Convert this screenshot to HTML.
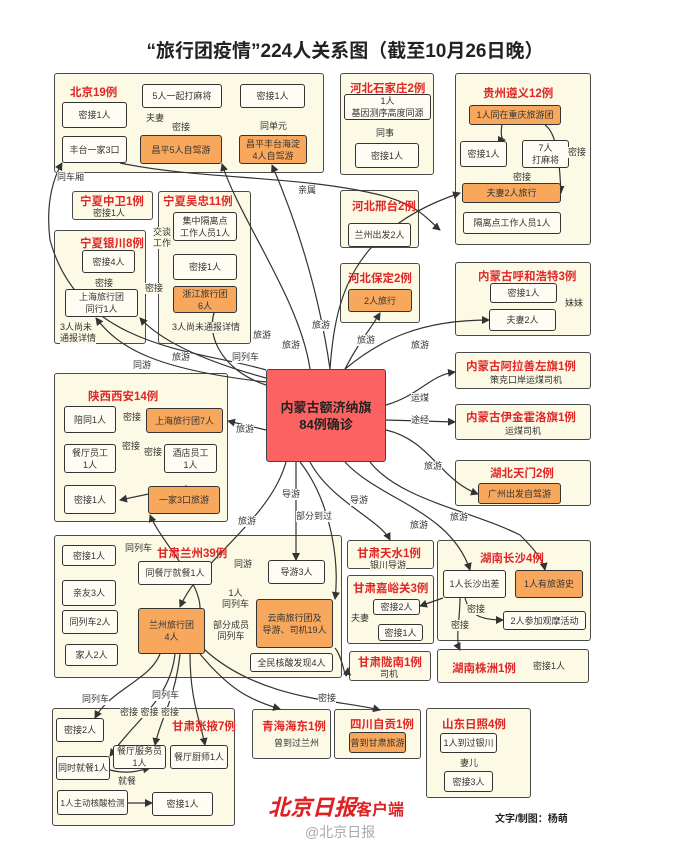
<!DOCTYPE html>
<html><head><meta charset="utf-8">
<style>
body{margin:0;background:#fff;}
#c{position:relative;width:690px;height:846px;overflow:hidden;background:#fff;font-family:"Liberation Sans","Noto Sans CJK SC",sans-serif;}
.g{position:absolute;background:#fcf9e4;border:1.5px solid #4a4a4a;border-radius:3px;box-sizing:border-box;z-index:0;}
.n{position:absolute;background:#fffdf3;border:1.3px solid #333;border-radius:3px;box-sizing:border-box;display:flex;align-items:center;justify-content:center;text-align:center;font-size:9px;line-height:12px;color:#333;z-index:2;white-space:nowrap;}
.o{background:#f8a85c;}
.t{position:absolute;color:#e02626;font-weight:bold;font-size:11.5px;white-space:nowrap;z-index:2;}
.s{position:absolute;font-size:9px;color:#333;white-space:nowrap;z-index:3;background:#fcf9e4;line-height:11px;}
.w{background:#fff;}
svg{position:absolute;left:0;top:0;z-index:1;}
</style></head><body><div id="c">
<div style="position:absolute;left:0;width:690px;top:36px;text-align:center;font-size:19px;font-weight:bold;color:#222;">“旅行团疫情”224人关系图（截至10月26日晚）</div>

<div class="g" style="left:54px;top:73px;width:270px;height:100px"></div>
<div class="g" style="left:340px;top:73px;width:94px;height:102px"></div>
<div class="g" style="left:455px;top:73px;width:136px;height:172px"></div>
<div class="g" style="left:340px;top:190px;width:79px;height:58px"></div>
<div class="g" style="left:340px;top:263px;width:80px;height:60px"></div>
<div class="g" style="left:455px;top:262px;width:136px;height:74px"></div>
<div class="g" style="left:72px;top:191px;width:81px;height:29px"></div>
<div class="g" style="left:158px;top:191px;width:93px;height:153px"></div>
<div class="g" style="left:54px;top:230px;width:92px;height:114px"></div>
<div class="g" style="left:455px;top:352px;width:136px;height:37px"></div>
<div class="g" style="left:455px;top:404px;width:136px;height:36px"></div>
<div class="g" style="left:455px;top:460px;width:136px;height:46px"></div>
<div class="g" style="left:54px;top:373px;width:174px;height:149px"></div>
<div class="g" style="left:54px;top:535px;width:288px;height:143px"></div>
<div class="g" style="left:347px;top:540px;width:87px;height:29px"></div>
<div class="g" style="left:437px;top:540px;width:154px;height:101px"></div>
<div class="g" style="left:347px;top:575px;width:87px;height:69px"></div>
<div class="g" style="left:349px;top:651px;width:82px;height:30px"></div>
<div class="g" style="left:437px;top:649px;width:152px;height:34px"></div>
<div class="g" style="left:52px;top:708px;width:183px;height:118px"></div>
<div class="g" style="left:252px;top:709px;width:79px;height:50px"></div>
<div class="g" style="left:334px;top:709px;width:87px;height:50px"></div>
<div class="g" style="left:426px;top:708px;width:105px;height:90px"></div>

<svg width="690" height="846" viewBox="0 0 690 846">
<defs><marker id="a" markerWidth="8" markerHeight="8" refX="7" refY="4" orient="auto" markerUnits="userSpaceOnUse"><path d="M0,0 L8,4 L0,8 Z" fill="#333"/></marker></defs>
<g fill="none" stroke="#333" stroke-width="1.2" marker-end="url(#a)">
<path d="M120,163 C200,180 300,175 380,195 C420,205 430,222 440,230"/>
<path d="M266,385 C220,370 200,330 220,300"/>
<path d="M310,369 C300,300 240,220 222,164"/>
<path d="M330,369 C320,300 300,230 272,165"/>
<path d="M266,430 L228,421"/>
<path d="M330,369 C335,300 350,230 460,193"/>
<path d="M345,369 C360,340 370,330 380,313"/>
<path d="M345,369 C380,340 420,320 489,320"/>
<path d="M266,378 C200,360 160,340 140,318"/>
<path d="M266,382 C160,370 120,350 96,318"/>
<path d="M266,370 C200,350 80,350 50,240 C45,200 55,175 62,163"/>
<path d="M386,405 C420,395 430,375 455,372"/>
<path d="M386,420 L455,422"/>
<path d="M386,430 C430,440 440,480 478,494"/>
<path d="M370,462 C400,500 470,510 520,535 C535,550 543,560 545,570"/>
<path d="M345,462 C380,500 450,510 470,570"/>
<path d="M310,462 C330,500 380,520 390,540"/>
<path d="M286,462 C270,520 200,560 180,607"/>
<path d="M296,462 L296,560"/>
<path d="M300,462 C330,500 340,560 335,599"/>
<path d="M200,608 C200,580 160,540 150,515"/>
<path d="M187,486 L120,500"/>
<path d="M335,648 C345,660 345,690 348,668"/>
<path d="M160,654 C150,680 110,690 95,718"/>
<path d="M175,654 C170,700 135,720 110,756"/>
<path d="M180,654 C175,700 160,720 155,745"/>
<path d="M190,654 C190,700 200,720 205,745"/>
<path d="M200,654 C230,690 250,700 280,709"/>
<path d="M205,650 C260,700 340,700 380,710"/>
<path d="M128,803 L152,803"/>
<path d="M110,770 C130,775 140,770 150,768"/>
<path d="M443,598 L420,606"/>
<path d="M460,598 C460,620 455,640 460,650"/>
<path d="M465,598 C470,615 480,620 503,620"/>
<path d="M545,125 C560,135 560,180 561,193"/>
<path d="M505,110 C500,130 500,140 505,140"/>
</g>
</svg>

<div class="t" style="left:70px;top:84px">北京19例</div>
<div class="n" style="left:62px;top:102px;width:65px;height:26px">密接1人</div>
<div class="n" style="left:142px;top:84px;width:80px;height:24px">5人一起打麻将</div>
<div class="n" style="left:240px;top:84px;width:65px;height:24px">密接1人</div>
<div class="n" style="left:62px;top:136px;width:65px;height:27px">丰台一家3口</div>
<div class="n o" style="left:140px;top:135px;width:82px;height:29px">昌平5人自驾游</div>
<div class="n o" style="left:239px;top:135px;width:68px;height:29px">昌平丰台海淀<br>4人自驾游</div>
<div class="s" style="left:146px;top:113px">夫妻</div>
<div class="s" style="left:172px;top:122px">密接</div>
<div class="s" style="left:260px;top:121px">同单元</div>
<div class="s w" style="left:57px;top:172px">同车厢</div>
<div class="s w" style="left:298px;top:185px">亲属</div>
<div class="t" style="left:350px;top:80px">河北石家庄2例</div>
<div class="n" style="left:344px;top:94px;width:87px;height:26px">1人<br>基因测序高度同源</div>
<div class="s" style="left:376px;top:128px">同事</div>
<div class="n" style="left:355px;top:143px;width:64px;height:25px">密接1人</div>
<div class="t" style="left:352px;top:198px">河北邢台2例</div>
<div class="n" style="left:348px;top:223px;width:63px;height:24px">兰州出发2人</div>
<div class="t" style="left:348px;top:270px">河北保定2例</div>
<div class="n o" style="left:348px;top:289px;width:64px;height:23px">2人旅行</div>
<div class="t" style="left:483px;top:85px">贵州遵义12例</div>
<div class="n o" style="left:469px;top:105px;width:92px;height:20px">1人同在重庆旅游团</div>
<div class="n" style="left:460px;top:141px;width:47px;height:26px">密接1人</div>
<div class="n" style="left:522px;top:140px;width:47px;height:28px">7人<br>打麻将</div>
<div class="s" style="left:568px;top:147px">密接</div>
<div class="s" style="left:513px;top:172px">密接</div>
<div class="n o" style="left:462px;top:183px;width:99px;height:20px">夫妻2人旅行</div>
<div class="n" style="left:463px;top:212px;width:98px;height:22px">隔离点工作人员1人</div>
<div class="t" style="left:478px;top:268px">内蒙古呼和浩特3例</div>
<div class="n" style="left:490px;top:283px;width:67px;height:20px">密接1人</div>
<div class="n" style="left:489px;top:309px;width:67px;height:22px">夫妻2人</div>
<div class="s" style="left:565px;top:298px">妹妹</div>
<div class="t" style="left:80px;top:193px">宁夏中卫1例</div>
<div class="s" style="left:93px;top:208px">密接1人</div>
<div class="t" style="left:163px;top:193px">宁夏吴忠11例</div>
<div class="n" style="left:173px;top:212px;width:64px;height:29px">集中隔离点<br>工作人员1人</div>
<div class="s" style="left:153px;top:227px;line-height:11px">交谈<br>工作</div>
<div class="n" style="left:173px;top:254px;width:64px;height:26px">密接1人</div>
<div class="n o" style="left:173px;top:286px;width:64px;height:27px">浙江旅行团<br>6人</div>
<div class="s" style="left:172px;top:322px">3人尚未通报详情</div>
<div class="t" style="left:80px;top:235px">宁夏银川8例</div>
<div class="n" style="left:82px;top:250px;width:53px;height:23px">密接4人</div>
<div class="s" style="left:95px;top:278px">密接</div>
<div class="s" style="left:145px;top:283px">密接</div>
<div class="n" style="left:65px;top:289px;width:73px;height:28px">上海旅行团<br>同行1人</div>
<div class="s" style="left:60px;top:322px">3人尚未<br>通报详情</div>
<div class="s w" style="left:253px;top:330px">旅游</div>
<div class="s w" style="left:282px;top:340px">旅游</div>
<div class="s w" style="left:312px;top:320px">旅游</div>
<div class="s w" style="left:357px;top:335px">旅游</div>
<div class="s w" style="left:411px;top:340px">旅游</div>
<div class="s w" style="left:172px;top:352px">旅游</div>
<div class="s w" style="left:133px;top:360px">同游</div>
<div class="s w" style="left:232px;top:352px">同列车</div>
<div class="n" style="left:266px;top:369px;width:120px;height:93px;background:#fd6262;border-color:#444;font-size:13px;line-height:17px;font-weight:bold;color:#222">内蒙古额济纳旗<br>84例确诊</div>
<div class="s w" style="left:236px;top:424px">旅游</div>
<div class="s w" style="left:411px;top:393px">运煤</div>
<div class="s w" style="left:411px;top:415px">途经</div>
<div class="s w" style="left:424px;top:461px">旅游</div>
<div class="s w" style="left:282px;top:489px">导游</div>
<div class="s w" style="left:296px;top:511px">部分到过</div>
<div class="s w" style="left:238px;top:516px">旅游</div>
<div class="s w" style="left:350px;top:495px">导游</div>
<div class="s w" style="left:410px;top:520px">旅游</div>
<div class="s w" style="left:450px;top:512px">旅游</div>
<div class="t" style="left:466px;top:358px">内蒙古阿拉善左旗1例</div>
<div class="s" style="left:490px;top:375px">策克口岸运煤司机</div>
<div class="t" style="left:466px;top:409px">内蒙古伊金霍洛旗1例</div>
<div class="s" style="left:505px;top:426px">运煤司机</div>
<div class="t" style="left:490px;top:465px">湖北天门2例</div>
<div class="n o" style="left:478px;top:483px;width:83px;height:21px">广州出发自驾游</div>
<div class="t" style="left:88px;top:388px">陕西西安14例</div>
<div class="n" style="left:64px;top:406px;width:52px;height:27px">陪同1人</div>
<div class="n o" style="left:146px;top:408px;width:77px;height:25px">上海旅行团7人</div>
<div class="s" style="left:123px;top:412px">密接</div>
<div class="n" style="left:64px;top:444px;width:52px;height:29px">餐厅员工<br>1人</div>
<div class="s" style="left:122px;top:441px">密接</div>
<div class="s" style="left:144px;top:447px">密接</div>
<div class="n" style="left:164px;top:444px;width:53px;height:29px">酒店员工<br>1人</div>
<div class="n" style="left:64px;top:485px;width:52px;height:29px">密接1人</div>
<div class="n o" style="left:148px;top:486px;width:72px;height:28px">一家3口旅游</div>
<div class="t" style="left:157px;top:545px">甘肃兰州39例</div>
<div class="s" style="left:125px;top:543px">同列车</div>
<div class="n" style="left:62px;top:545px;width:54px;height:21px">密接1人</div>
<div class="n" style="left:138px;top:561px;width:74px;height:24px">同餐厅就餐1人</div>
<div class="n" style="left:62px;top:580px;width:54px;height:26px">亲友3人</div>
<div class="n" style="left:62px;top:610px;width:56px;height:24px">同列车2人</div>
<div class="n" style="left:65px;top:644px;width:53px;height:22px">家人2人</div>
<div class="n o" style="left:138px;top:608px;width:67px;height:46px">兰州旅行团<br>4人</div>
<div class="s" style="left:234px;top:559px">同游</div>
<div class="n" style="left:268px;top:560px;width:57px;height:24px">导游3人</div>
<div class="s" style="left:222px;top:588px;text-align:center">1人<br>同列车</div>
<div class="n o" style="left:256px;top:599px;width:77px;height:49px">云南旅行团及<br>导游、司机19人</div>
<div class="s" style="left:213px;top:620px;text-align:center">部分成员<br>同列车</div>
<div class="n" style="left:250px;top:653px;width:83px;height:19px">全民核酸发现4人</div>
<div class="t" style="left:357px;top:545px">甘肃天水1例</div>
<div class="s" style="left:370px;top:560px">银川导游</div>
<div class="t" style="left:353px;top:580px">甘肃嘉峪关3例</div>
<div class="n" style="left:373px;top:599px;width:47px;height:16px">密接2人</div>
<div class="s" style="left:351px;top:613px">夫妻</div>
<div class="n" style="left:378px;top:624px;width:45px;height:17px">密接1人</div>
<div class="t" style="left:358px;top:654px">甘肃陇南1例</div>
<div class="s" style="left:380px;top:669px">司机</div>
<div class="t" style="left:480px;top:550px">湖南长沙4例</div>
<div class="n" style="left:443px;top:570px;width:63px;height:28px">1人长沙出差</div>
<div class="n o" style="left:515px;top:570px;width:68px;height:28px">1人有旅游史</div>
<div class="s" style="left:467px;top:604px">密接</div>
<div class="s" style="left:451px;top:620px">密接</div>
<div class="n" style="left:503px;top:611px;width:83px;height:19px">2人参加观摩活动</div>
<div class="t" style="left:452px;top:660px">湖南株洲1例</div>
<div class="s" style="left:533px;top:661px">密接1人</div>
<div class="s w" style="left:82px;top:694px">同列车</div>
<div class="s w" style="left:152px;top:690px">同列车</div>
<div class="s w" style="left:318px;top:693px">密接</div>
<div class="s" style="left:120px;top:707px">密接 密接 密接</div>
<div class="t" style="left:172px;top:718px">甘肃张掖7例</div>
<div class="n" style="left:56px;top:718px;width:48px;height:24px">密接2人</div>
<div class="n" style="left:56px;top:756px;width:54px;height:24px">同时就餐1人</div>
<div class="n" style="left:113px;top:745px;width:53px;height:24px">餐厅服务员<br>1人</div>
<div class="n" style="left:170px;top:745px;width:58px;height:24px">餐厅厨师1人</div>
<div class="s" style="left:118px;top:776px">就餐</div>
<div class="n" style="left:57px;top:790px;width:71px;height:25px;font-size:8.5px">1人主动核酸检测</div>
<div class="n" style="left:152px;top:792px;width:61px;height:24px">密接1人</div>
<div class="t" style="left:262px;top:718px">青海海东1例</div>
<div class="s" style="left:274px;top:738px">曾到过兰州</div>
<div class="t" style="left:350px;top:716px">四川自贡1例</div>
<div class="n o" style="left:349px;top:732px;width:57px;height:21px">曾到甘肃旅游</div>
<div class="t" style="left:442px;top:716px">山东日照4例</div>
<div class="n" style="left:440px;top:733px;width:57px;height:20px">1人到过银川</div>
<div class="s" style="left:460px;top:758px">妻儿</div>
<div class="n" style="left:444px;top:771px;width:49px;height:21px">密接3人</div>
<div style="position:absolute;left:268px;top:790px;font-size:22px;font-weight:bold;color:#e02020;font-style:italic;white-space:nowrap">北京日报<span style="font-size:16px;font-style:normal">客户端</span></div>
<div style="position:absolute;left:305px;top:822px;font-size:14px;color:#aaa;white-space:nowrap">@北京日报</div>
<div style="position:absolute;left:495px;top:810px;font-size:10px;font-weight:bold;color:#222;white-space:nowrap">文字/制图：杨萌</div>
</div></body></html>
